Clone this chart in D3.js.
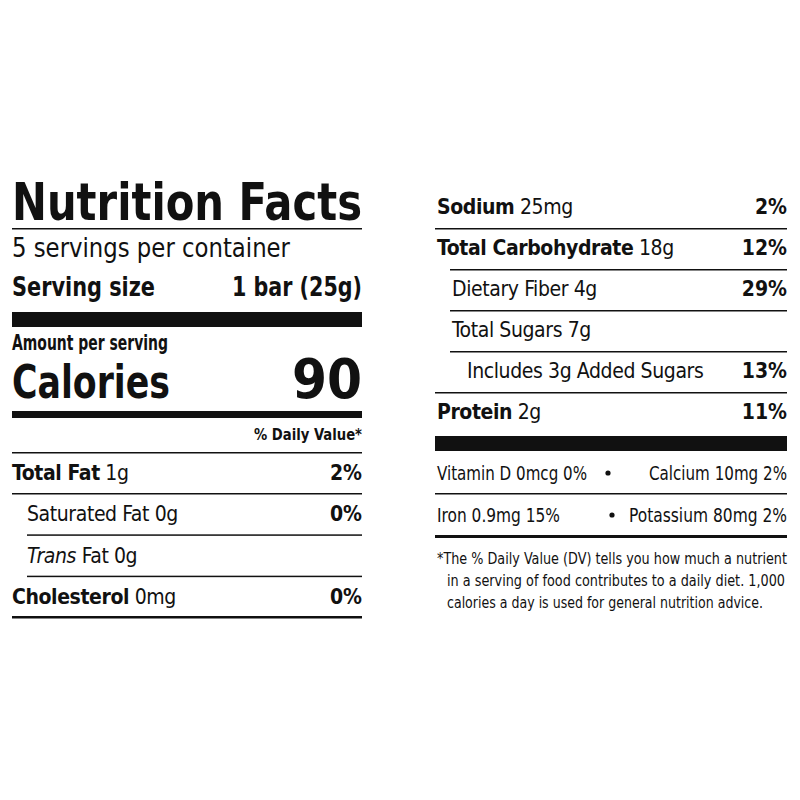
<!DOCTYPE html>
<html><head><meta charset="utf-8">
<script src="https://cdn.jsdelivr.net/npm/d3@7"></script>
<style>
body{margin:0;background:#fff}
text{font-family:"Liberation Sans Narrow","DejaVu Sans Condensed","Roboto",sans-serif;fill:#111}
</style></head>
<body><svg id="label" width="800" height="800"></svg>
<script>
// nutrient rows, left column
var leftNames = ["Total Fat", "Saturated Fat", "Trans Fat", "Cholesterol"];
var leftAmounts = ["1g", "0g", "0g", "0mg"];
var leftDV = ["2%", "0%", "", "0%"];
var leftIndent = [0, 1, 1, 0];

var rightNames = ["Sodium", "Total Carbohydrate", "Dietary Fiber", "Total Sugars", "Includes 3g Added Sugars", "Protein"];
var rightAmounts = ["25mg", "18g", "4g", "7g", "", "2g"];
var rightDV = ["2%", "12%", "29%", "", "13%", "11%"];
var rightIndent = [0, 0, 1, 1, 2, 0];

var vitLeft = ["Vitamin D 0mcg 0%", "Iron 0.9mg 15%"];
var vitRight = ["Calcium 10mg 2%", "Potassium 80mg 2%"];

var footnote = ["*The % Daily Value (DV) tells you how much a nutrient",
  "in a serving of food contributes to a daily diet. 1,000",
  "calories a day is used for general nutrition advice."];

var svg = d3.select("#label");

function hline(x0, x1, y, h) {
	svg.append("rect").attr("x", x0).attr("y", y).attr("width", x1 - x0).attr("height", h).attr("fill", "#111");
}
function fit(t, w) {
	return t.attr("textLength", w).attr("lengthAdjust", "spacingAndGlyphs");
}

// left column
var L = {x0: 12, x1: 362};
fit(svg.append("text").attr("x", L.x0).attr("y", 220).attr("font-size", 52).attr("font-weight", "bold")
	.text("Nutrition Facts"), L.x1 - L.x0);
hline(L.x0, L.x1, 228, 1.5);
fit(svg.append("text").attr("x", L.x0).attr("y", 257).attr("font-size", 26).text("5 servings per container"), 278);
fit(svg.append("text").attr("x", L.x0).attr("y", 296).attr("font-size", 27).attr("font-weight", "bold").text("Serving size"), 143);
fit(svg.append("text").attr("x", L.x1).attr("y", 296).attr("font-size", 27).attr("font-weight", "bold")
	.attr("text-anchor", "end").text("1 bar (25g)"), 130);
hline(L.x0, L.x1, 312, 15);
fit(svg.append("text").attr("x", L.x0).attr("y", 350).attr("font-size", 21).attr("font-weight", "bold").text("Amount per serving"), 156);
fit(svg.append("text").attr("x", L.x0).attr("y", 398).attr("font-size", 46).attr("font-weight", "bold").text("Calories"), 158);
svg.append("text").attr("x", L.x1).attr("y", 398).attr("font-size", 56).attr("font-weight", "bold")
	.attr("text-anchor", "end").text("90");
hline(L.x0, L.x1, 411, 7);
fit(svg.append("text").attr("x", L.x1).attr("y", 440).attr("font-size", 16).attr("font-weight", "bold")
	.attr("text-anchor", "end").text("% Daily Value*"), 108);
hline(L.x0, L.x1, 452, 1.5);

var yL = d3.scalePoint().domain(d3.range(leftNames.length)).range([480, 604]);
leftNames.forEach(function(n, i) {
	var y = yL(i);
	var t = svg.append("text").attr("x", L.x0 + leftIndent[i] * 15).attr("y", y).attr("font-size", 21).attr("letter-spacing", -0.4);
	if (n == "Trans Fat") {
		t.append("tspan").attr("font-style", "italic").text("Trans");
		t.append("tspan").text(" Fat " + leftAmounts[i]);
	} else if (leftIndent[i] == 0) {
		t.append("tspan").attr("font-weight", "bold").text(n);
		t.append("tspan").text(" " + leftAmounts[i]);
	} else {
		t.text(n + " " + leftAmounts[i]);
	}
	svg.append("text").attr("x", L.x1).attr("y", y).attr("font-size", 21).attr("font-weight", "bold")
		.attr("text-anchor", "end").text(leftDV[i]);
	hline(leftIndent[i] ? L.x0 + 15 : L.x0, L.x1, y + 13, 1.5);
});
hline(L.x0, L.x1, 616, 1.5);

// right column
var R = {x0: 435, x1: 787};
var yR = d3.scalePoint().domain(d3.range(rightNames.length)).range([214, 419]);
rightNames.forEach(function(n, i) {
	var y = yR(i);
	var t = svg.append("text").attr("x", R.x0 + 2 + rightIndent[i] * 15).attr("y", y).attr("font-size", 21).attr("letter-spacing", -0.4);
	if (rightIndent[i] == 0) {
		t.append("tspan").attr("font-weight", "bold").text(n);
		t.append("tspan").text(" " + rightAmounts[i]);
	} else {
		t.text(rightAmounts[i] ? n + " " + rightAmounts[i] : n);
	}
	svg.append("text").attr("x", R.x1).attr("y", y).attr("font-size", 21).attr("font-weight", "bold")
		.attr("text-anchor", "end").text(rightDV[i]);
	if (i < rightNames.length - 1) {
		var ni = rightIndent[i + 1];
		hline(ni ? R.x0 + 15 : R.x0, R.x1, y + 14, 1.5);
	}
});
hline(R.x0, R.x1, 436, 15);

var vitLW = [150, 123], vitRW = [138, 158];
var yV = d3.scalePoint().domain(d3.range(vitLeft.length)).range([480, 522]);
vitLeft.forEach(function(v, i) {
	var y = yV(i);
	fit(svg.append("text").attr("x", R.x0 + 2).attr("y", y).attr("font-size", 19).text(v), vitLW[i]);
	fit(svg.append("text").attr("x", R.x1).attr("y", y).attr("font-size", 19).attr("text-anchor", "end").text(vitRight[i]), vitRW[i]);
	svg.append("circle").attr("cx", i == 0 ? 608 : 612).attr("cy", y - 7).attr("r", 2.6).attr("fill", "#111");
	hline(R.x0, R.x1, y + 13, i == vitLeft.length - 1 ? 3 : 1.5);
});

var footW = [350, 338, 316];
footnote.forEach(function(f, i) {
	fit(svg.append("text").attr("x", i == 0 ? R.x0 + 2 : R.x0 + 12).attr("y", 564 + i * 22).attr("font-size", 15).text(f), footW[i]);
});
</script></body></html>
